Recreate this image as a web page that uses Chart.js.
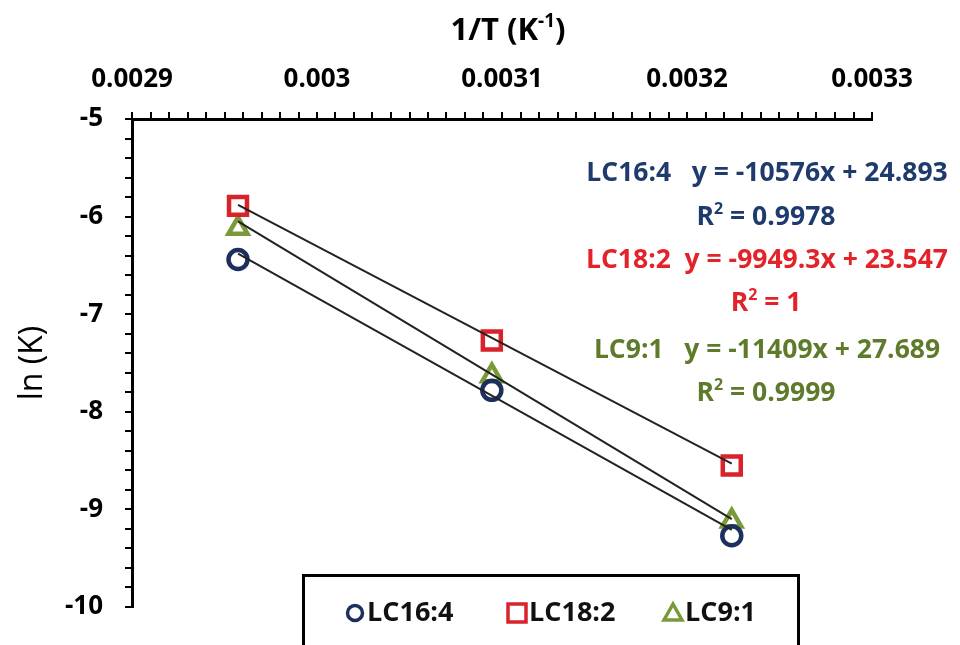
<!DOCTYPE html>
<html>
<head>
<meta charset="utf-8">
<script src="https://cdn.jsdelivr.net/npm/chart.js@4.4.1/dist/chart.umd.min.js"></script>
<style>
  html, body { margin: 0; padding: 0; background: #fff; }
  #wrap { width: 960px; height: 645px; position: relative; }
</style>
</head>
<body>
<div id="wrap"><canvas id="c" width="960" height="645"></canvas></div>
<script>
// 1/T values (K^-1) for the three temperatures
const invT = [0.0029573, 0.0030945, 0.0032242];

// ln(K)
const lnK16 = [-6.44, -7.78, -9.27];
const lnK18 = [-5.89, -7.27, -8.55];
const lnK9 = [-6.12, -7.63, -9.12];

// linear trendlines, value at first and last 1/T
const trendX = [0.0029573, 0.0032242];
const trend16 = [-6.38, -9.21];
const trend18 = [-5.88, -8.53];
const trend9 = [-6.05, -9.10];

const seriesNames = ["LC16:4", "LC18:2", "LC9:1"];
const equations = ["y = -10576x + 24.893", "y = -9949.3x + 23.547", "y = -11409x + 27.689"];
const rSquared = ["0.9978", "1", "0.9999"];

const markerColors = ["#1d2f5e", "#d8232a", "#7a9a3a"];
const textColors = ["#1f3a6c", "#e3222a", "#5e7b2c"];
const pointStyles = ["circle", "rect", "triangle"];

const FONT = "'Open Sans', 'Liberation Sans', sans-serif";

const pts = (ys) => invT.map((x, i) => ({ x, y: ys[i] }));
const line = (ys) => trendX.map((x, i) => ({ x, y: ys[i] }));

const trendSet = (ys) => ({
  data: line(ys),
  showLine: true,
  borderColor: "#222",
  borderWidth: 2,
  pointRadius: 0,
  order: 0,
});

const pointSet = (i, ys, radius) => ({
  label: seriesNames[i],
  data: pts(ys),
  showLine: false,
  pointStyle: pointStyles[i],
  pointRadius: radius,
  pointBorderWidth: 4.5,
  pointBorderColor: markerColors[i],
  pointBackgroundColor: "rgba(255,255,255,0)",
  order: 1,
});

// superscript-aware text line, centred on cx
const drawRuns = (ctx, runs, cx, cy, size, weight, color) => {
  const fontFor = (sup) => `${weight} ${sup ? Math.round(size * 0.62) : size}px ${FONT}`;
  let total = 0;
  runs.forEach(([t, sup]) => {
    ctx.font = fontFor(sup);
    total += ctx.measureText(t).width;
  });
  let x = cx - total / 2;
  ctx.fillStyle = color;
  ctx.textBaseline = "middle";
  ctx.textAlign = "left";
  runs.forEach(([t, sup]) => {
    ctx.font = fontFor(sup);
    ctx.fillText(t, x, sup ? cy - size * 0.3 : cy);
    x += ctx.measureText(t).width;
  });
};

const marker = (ctx, style, x, y, color) => {
  ctx.save();
  ctx.strokeStyle = color;
  ctx.lineWidth = 3.5;
  ctx.beginPath();
  if (style === "circle") {
    ctx.arc(x, y, 7.5, 0, Math.PI * 2);
  } else if (style === "rect") {
    ctx.rect(x - 9, y - 9, 18, 18);
  } else {
    ctx.moveTo(x, y - 9);
    ctx.lineTo(x + 9, y + 7);
    ctx.lineTo(x - 9, y + 7);
    ctx.closePath();
  }
  ctx.stroke();
  ctx.restore();
};

const extras = {
  id: "extras",
  afterDraw(chart) {
    const ctx = chart.ctx;
    ctx.save();

    // axis titles
    drawRuns(ctx, [["1/T (K", false], ["-1", true], [")", false]], 508, 31, 31, "bold", "#000");
    ctx.save();
    ctx.translate(33, 363);
    ctx.rotate(-Math.PI / 2);
    drawRuns(ctx, [["ln (K)", false]], 0, 0, 32, "normal", "#000");
    ctx.restore();

    // trendline equations
    const eqY = [173, 260, 350];
    const r2Y = [217, 303, 393];
    seriesNames.forEach((name, i) => {
      const gap = i === 1 ? "  " : "   ";
      drawRuns(ctx, [[name + gap + equations[i], false]], 767, eqY[i], 26.5, "bold", textColors[i]);
      drawRuns(ctx, [["R", false], ["2", true], [" = " + rSquared[i], false]], 766, r2Y[i], 26.5, "bold", textColors[i]);
    });

    // legend box
    ctx.fillStyle = "#fff";
    ctx.fillRect(303, 575, 496, 120);
    ctx.strokeStyle = "#000";
    ctx.lineWidth = 3;
    ctx.strokeRect(303.5, 575.5, 495, 120);
    const legX = [355, 517, 673];
    seriesNames.forEach((name, i) => {
      marker(ctx, pointStyles[i], legX[i], 613, markerColors[i]);
      ctx.font = `bold 27px ${FONT}`;
      ctx.fillStyle = "#111";
      ctx.textAlign = "left";
      ctx.textBaseline = "middle";
      ctx.fillText(name, legX[i] + 12, 613);
    });

    ctx.restore();
  },
};

const isStep = (v, step) => Math.abs(v / step - Math.round(v / step)) < 1e-6;

new Chart(document.getElementById("c"), {
  type: "scatter",
  data: {
    datasets: [
      trendSet(trend16),
      trendSet(trend18),
      trendSet(trend9),
      pointSet(0, lnK16, 9.5),
      pointSet(1, lnK18, 12.7),
      pointSet(2, lnK9, 11),
    ],
  },
  options: {
    responsive: false,
    animation: false,
    devicePixelRatio: 1,
    layout: { padding: { left: 0, top: 0, right: 88, bottom: 38 } },
    plugins: {
      legend: { display: false },
      tooltip: { enabled: false },
    },
    scales: {
      x: {
        type: "linear",
        position: "top",
        min: 0.0029,
        max: 0.0033,
        afterFit: (s) => { s.height = 119; },
        ticks: {
          stepSize: 0.00001,
          autoSkip: false,
          maxRotation: 0,
          padding: 17,
          color: "#000",
          font: { family: FONT, size: 26, weight: "bold" },
          callback: (v) => (isStep(v, 0.0001) ? String(+v.toFixed(4)) : ""),
        },
        grid: { drawOnChartArea: false, tickLength: 7, tickWidth: 2, tickColor: "#000", lineWidth: 2 },
        border: { display: true, color: "#000", width: 3 },
      },
      y: {
        min: -10,
        max: -5,
        afterFit: (s) => { s.width = 132; },
        ticks: {
          stepSize: 0.2,
          autoSkip: false,
          padding: 22,
          color: "#000",
          font: { family: FONT, size: 26, weight: "bold" },
          callback: (v) => (isStep(v, 1) ? String(Math.round(v)) : ""),
        },
        grid: { drawOnChartArea: false, tickLength: 7, tickWidth: 2, tickColor: "#000", lineWidth: 2 },
        border: { display: true, color: "#000", width: 3 },
      },
    },
  },
  plugins: [extras],
});
</script>
</body>
</html>
